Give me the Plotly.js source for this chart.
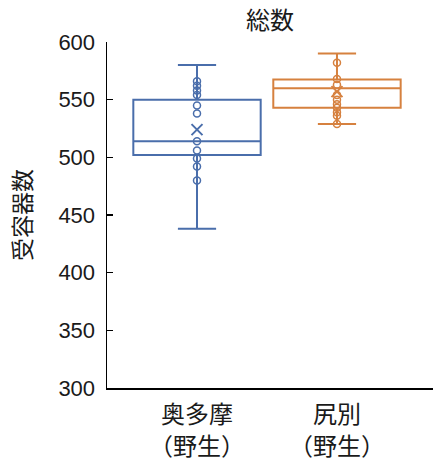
<!DOCTYPE html>
<html>
<head>
<meta charset="utf-8">
<script src="https://cdn.plot.ly/plotly-3.0.1.min.js"></script>
<style>
  html, body { margin: 0; padding: 0; background: #ffffff; }
  #chart { width: 441px; height: 463px; }
</style>
</head>
<body>
<div id="chart"></div>
<script>
// Sites (x categories)
const categories = ['奥多摩<br>（野生）', '尻別<br>（野生）'];

// Five-number summaries per site
const q1Values      = [502, 543];
const medianValues  = [514, 560];
const q3Values      = [550, 567.5];
const lowerWhisker  = [438, 529];
const upperWhisker  = [580, 590];
const meanValues    = [524, 557];

// Individual receptor counts per site
const pointsOkutama    = [566, 562, 558, 554, 545, 538, 514, 506, 499, 492, 480];
const pointsShiribetsu = [582, 568, 563, 554, 550, 546, 543, 539, 536, 529];

const colors = ['#4a6eab', '#d6813f'];
const pointSets = [pointsOkutama, pointsShiribetsu];

const traces = [];
categories.forEach((cat, i) => {
  traces.push({
    type: 'box',
    x: [cat],
    q1: [q1Values[i]],
    median: [medianValues[i]],
    q3: [q3Values[i]],
    lowerfence: [lowerWhisker[i]],
    upperfence: [upperWhisker[i]],
    width: 0.91,
    whiskerwidth: 0.3,
    boxpoints: false,
    fillcolor: 'rgba(255,255,255,0)',
    line: { color: colors[i], width: 2 },
    hoverinfo: 'skip',
    showlegend: false
  });
  traces.push({
    type: 'scatter',
    mode: 'markers',
    x: pointSets[i].map(() => cat),
    y: pointSets[i],
    marker: { symbol: 'circle-open', size: 7, color: colors[i], line: { width: 1.5, color: colors[i] } },
    hoverinfo: 'skip',
    showlegend: false
  });
  traces.push({
    type: 'scatter',
    mode: 'markers',
    x: [cat],
    y: [meanValues[i]],
    marker: { symbol: 'x-thin-open', size: 11, color: colors[i], line: { width: 2, color: colors[i] } },
    hoverinfo: 'skip',
    showlegend: false
  });
});

const fontFamily = '"Liberation Sans", "Noto Sans CJK JP", Arial, sans-serif';

const layout = {
  width: 441,
  height: 463,
  margin: { l: 107, r: 8, t: 42, b: 75 },
  paper_bgcolor: '#ffffff',
  plot_bgcolor: '#ffffff',
  font: { family: fontFamily, color: '#1a1a1a', size: 22 },
  title: {
    text: '総数',
    x: 0.5,
    xref: 'paper',
    y: 0.955,
    yanchor: 'middle',
    font: { family: fontFamily, size: 24, color: '#1a1a1a' }
  },
  xaxis: {
    type: 'category',
    range: [-0.643, 1.686],
    showline: true,
    linecolor: '#000000',
    linewidth: 1.5,
    ticks: '',
    ticklabelstandoff: 5,
    showgrid: false,
    zeroline: false,
    tickfont: { family: fontFamily, size: 24, color: '#1a1a1a' },
    fixedrange: true
  },
  yaxis: {
    range: [300, 600],
    tickvals: [300, 350, 400, 450, 500, 550, 600],
    ticktext: ['300', '350', '400', '450', '500', '550', '600'],
    showline: true,
    linecolor: '#000000',
    linewidth: 1.5,
    ticks: 'inside',
    ticklen: 6,
    tickwidth: 1.5,
    tickcolor: '#000000',
    ticklabelstandoff: 6,
    showgrid: false,
    zeroline: false,
    tickfont: { family: fontFamily, size: 22, color: '#1a1a1a' },
    title: {
      text: '受容器数',
      standoff: 20,
      font: { family: fontFamily, size: 23, color: '#1a1a1a' }
    },
    fixedrange: true
  },
  showlegend: false
};

Plotly.newPlot('chart', traces, layout, { displayModeBar: false, staticPlot: true });
</script>
</body>
</html>
